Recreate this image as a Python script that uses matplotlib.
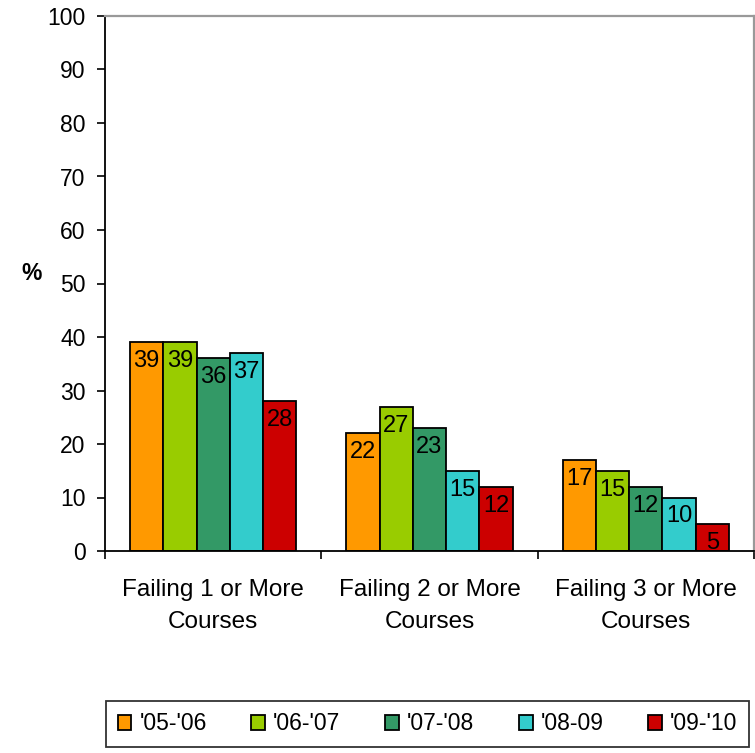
import numpy as np
import matplotlib
matplotlib.use("Agg")
import matplotlib.pyplot as plt

plt.rcParams['font.family'] = ['Liberation Sans', 'DejaVu Sans']

# Data
categories = ['Failing 1 or More\nCourses', 'Failing 2 or More\nCourses', 'Failing 3 or More\nCourses']
years = ["'05-'06", "'06-'07", "'07-'08", "'08-09", "'09-'10"]
values = {
    "'05-'06": [39, 22, 17],
    "'06-'07": [39, 27, 15],
    "'07-'08": [36, 23, 12],
    "'08-09": [37, 15, 10],
    "'09-'10": [28, 12, 5],
}
colors = ['#FF9900', '#99CC00', '#339966', '#33CCCC', '#CC0000']

fig = plt.figure(figsize=(7.55, 7.53), dpi=100)
ax = fig.add_axes([105/755, 1 - 551/753, (754 - 105)/755, (551 - 16)/753])

x = np.arange(len(categories))
width = 0.154
for i, (yr, col) in enumerate(zip(years, colors)):
    pos = x + (i - 2) * width
    bars = ax.bar(pos, values[yr], width, color=col, edgecolor='black',
                  linewidth=1.3, label=yr, zorder=2)
    for b, v in zip(bars, values[yr]):
        ax.annotate(str(v), (b.get_x() + b.get_width() / 2, v),
                    xytext=(0, -19), textcoords='offset pixels',
                    ha='center', va='center', fontsize=17)

ax.set_ylim(0, 100)
ax.set_xlim(-0.5, 2.5)
ax.set_yticks(range(0, 101, 10))
ax.set_xticks(x)
ax.set_xticklabels(categories, fontsize=17.5, linespacing=1.6)
ax.set_xticks([-0.5, 0.5, 1.5, 2.5], minor=True)
ax.tick_params(axis='x', which='major', length=0, pad=20)
ax.tick_params(axis='x', which='minor', length=6, width=1.2, direction='out')
ax.tick_params(axis='y', labelsize=16.5, length=6, width=1.2, direction='out', pad=8)

for s in ['left', 'bottom']:
    ax.spines[s].set_color('black')
    ax.spines[s].set_linewidth(1.3)
for s in ['top', 'right']:
    ax.spines[s].set_color('#999999')
    ax.spines[s].set_linewidth(1.6)

ax.set_ylabel('%', rotation=0, fontsize=16.5, fontweight='bold')
ax.yaxis.set_label_coords(32/755 - 105/755, 0.5, transform=fig.transFigure)
ax.yaxis.label.set_position((32/755, 1 - 285/753))

leg = fig.legend(loc='center', ncol=5, bbox_to_anchor=(427.5/755, 1 - 724/753),
                 fontsize=16.5, frameon=True, fancybox=False, edgecolor='black',
                 handlelength=0.6, handleheight=0.6, handletextpad=0.35,
                 columnspacing=1.95, borderpad=0.5, borderaxespad=0)
leg.get_frame().set_linewidth(1.3)

fig.savefig('out.png', dpi=100)
